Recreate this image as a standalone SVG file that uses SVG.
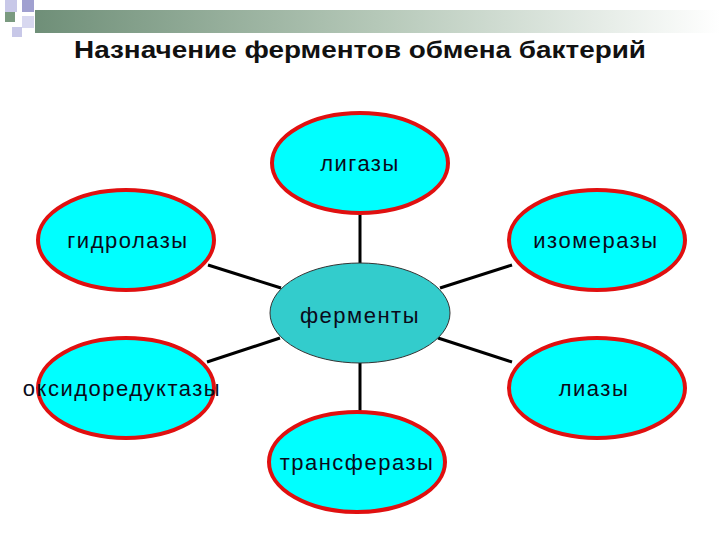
<svg xmlns="http://www.w3.org/2000/svg" width="720" height="540" viewBox="0 0 720 540">
<defs>
<linearGradient id="bar" x1="0" x2="1" y1="0" y2="0">
<stop offset="0" stop-color="#6f8f78"/><stop offset="0.5" stop-color="#b5c8b8"/><stop offset="1" stop-color="#ffffff"/>
</linearGradient>
<style>
.n{fill:#00ffff;stroke:#e01010;stroke-width:4}
.c{fill:#33cccc;stroke:#333;stroke-width:1}
.t{font-family:"Liberation Sans",Arial,sans-serif;font-size:22px;letter-spacing:1.5px;fill:#0a0a1a;text-anchor:middle}
.l{stroke:#000;stroke-width:3}
</style>
</defs>
<rect width="720" height="540" fill="#fff"/>
<g id="decor">
<rect x="35" y="10" width="685" height="23" fill="url(#bar)"/>
<rect x="5" y="0" width="12" height="12" fill="#c8c8e8"/>
<rect x="22" y="0" width="12" height="12" fill="#a0a0d0"/>
<rect x="5" y="12" width="10" height="10" fill="#7a9a80"/>
<rect x="22" y="16" width="12" height="12" fill="#d8d8f0"/>
<rect x="12" y="27" width="10" height="10" fill="#c8c8e8"/>
</g>
<text x="360" y="58" font-family="Liberation Sans,Arial,sans-serif" font-weight="bold" font-size="23" text-anchor="middle" textLength="572" lengthAdjust="spacingAndGlyphs" fill="#111">Назначение ферментов обмена бактерий</text>
<g id="connectors">
<line class="l" x1="360" y1="213" x2="360" y2="263"/>
<line class="l" x1="360" y1="363" x2="360" y2="412"/>
<line class="l" x1="208" y1="265" x2="281" y2="288"/>
<line class="l" x1="440" y1="288" x2="512" y2="265"/>
<line class="l" x1="207" y1="362" x2="280" y2="338"/>
<line class="l" x1="438" y1="338" x2="512" y2="362"/>
</g>
<g id="n-center"><ellipse class="c" cx="360" cy="313" rx="90" ry="50"/><text class="t" x="360" y="323">ферменты</text></g>
<g id="n-ligazy"><ellipse class="n" cx="360" cy="163" rx="88" ry="50"/><text class="t" x="360" y="171">лигазы</text></g>
<g id="n-gidrolazy"><ellipse class="n" cx="126" cy="240" rx="88" ry="50"/><text class="t" x="128" y="248">гидролазы</text></g>
<g id="n-izomerazy"><ellipse class="n" cx="597" cy="240" rx="88" ry="50"/><text class="t" x="596" y="248">изомеразы</text></g>
<g id="n-oksido"><ellipse class="n" cx="126" cy="388" rx="88" ry="50"/><text class="t" x="122" y="396">оксидоредуктазы</text></g>
<g id="n-liazy"><ellipse class="n" cx="597" cy="388" rx="88" ry="50"/><text class="t" x="594" y="396">лиазы</text></g>
<g id="n-transf"><ellipse class="n" cx="357" cy="462" rx="88" ry="50"/><text class="t" x="357" y="470">трансферазы</text></g>
</svg>
